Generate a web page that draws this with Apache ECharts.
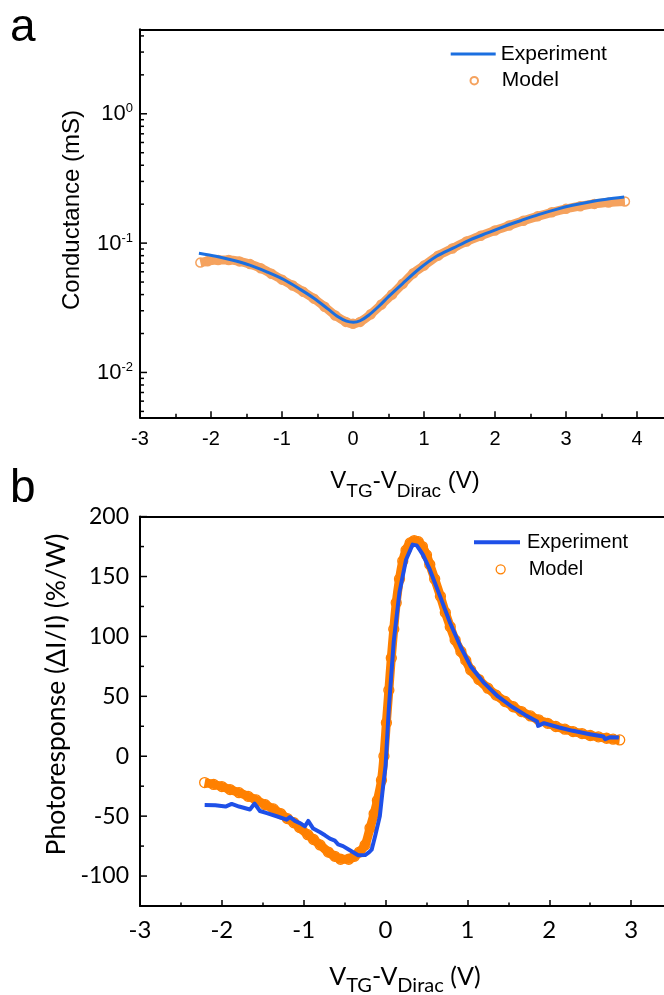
<!DOCTYPE html>
<html>
<head>
<meta charset="utf-8">
<title>Conductance and photoresponse</title>
<script src="https://cdn.jsdelivr.net/npm/echarts@6/dist/echarts.min.js"></script>
<style>
html,body{margin:0;padding:0;background:#ffffff;}
#chart{width:664px;height:995px;}
</style>
</head>
<body>
<div id="chart"></div>
<script>
// ---------- Panel a: conductance (mS) vs V_TG - V_Dirac (V) ----------
const gateA_experiment = [-2.17,-1.93,-1.69,-1.455,-1.215,-0.976,-0.737,-0.545,-0.354,-0.21,-0.091,0.005,0.1,0.22,0.364,0.507,0.699,0.938,1.177,1.416,1.656,1.895,2.134,2.373,2.612,2.852,3.091,3.33,3.569,3.82];
const conductance_experiment = [0.0834,0.0791,0.0737,0.0675,0.0599,0.0523,0.0437,0.0373,0.0310,0.0269,0.0249,0.02446,0.0251,0.0277,0.0325,0.0389,0.0487,0.0636,0.0791,0.0918,0.1064,0.1198,0.1349,0.150,0.166,0.1815,0.196,0.208,0.218,0.227];
const gateA_model = [-2.15,-2.05,-1.9,-1.75,-1.6,-1.45,-1.3,-1.15,-1.0,-0.85,-0.7,-0.55,-0.4,-0.25,-0.1,0,0.1,0.25,0.4,0.55,0.7,0.85,1.0,1.2,1.4,1.6,1.8,2.0,2.2,2.4,2.6,2.8,3.0,3.2,3.4,3.6,3.83];
const conductance_model = [0.0707,0.0725,0.0740,0.0740,0.0722,0.0688,0.0640,0.0580,0.0522,0.0470,0.0420,0.0372,0.0322,0.0276,0.0246,0.0238,0.0246,0.0282,0.0335,0.0400,0.0485,0.0585,0.0670,0.0800,0.0910,0.1030,0.1140,0.1250,0.1370,0.1490,0.1610,0.1730,0.1840,0.1930,0.2010,0.2060,0.2100];

// ---------- Panel b: photoresponse (%/W) vs V_TG - V_Dirac (V) ----------
const gateB_experiment = [-2.21,-2.08,-1.955,-1.88,-1.79,-1.657,-1.60,-1.535,-1.45,-1.331,-1.209,-1.168,-1.107,-1.04,-0.985,-0.945,-0.884,-0.80,-0.74,-0.68,-0.62,-0.58,-0.52,-0.436,-0.335,-0.25,-0.2,-0.17,-0.125,-0.07,-0.035,0.0,0.04,0.10,0.17,0.25,0.33,0.38,0.42,0.457,0.541,0.666,0.79,0.915,1.04,1.206,1.373,1.539,1.705,1.851,1.864,1.934,2.122,2.288,2.496,2.662,2.683,2.745,2.85];
const photoresponse_experiment = [-40.7,-40.9,-42,-39.8,-42,-44.5,-39.5,-45.7,-47.5,-50.1,-52.9,-50.7,-54,-56,-58.5,-54,-60.4,-63.5,-66,-68.8,-70.5,-73.5,-75,-78.5,-82.7,-82.5,-80,-78,-66,-50,-28,-8,40,96,137,164,176.6,176,172,168,155.7,133.4,111,91.6,75,61,49.9,41.5,34.5,29,25.3,27.6,24,21.2,18.4,16.4,14.2,15.9,15.6];
const gateB_model = [-2.21,-2.1,-2.0,-1.9,-1.79,-1.68,-1.58,-1.47,-1.37,-1.28,-1.2,-1.12,-1.05,-0.95,-0.88,-0.8,-0.7,-0.62,-0.55,-0.45,-0.38,-0.32,-0.25,-0.19,-0.14,-0.1,-0.05,-0.02,0.01,0.04,0.07,0.1,0.13,0.17,0.21,0.25,0.3,0.35,0.4,0.45,0.5,0.54,0.6,0.67,0.73,0.79,0.85,0.92,0.98,1.04,1.14,1.25,1.35,1.46,1.56,1.66,1.77,1.87,1.98,2.08,2.19,2.29,2.4,2.5,2.6,2.7,2.78,2.86];
const photoresponse_model = [-22,-23.5,-25.3,-27.8,-30.4,-33.5,-36.5,-40.5,-44,-48,-52,-55.5,-59.5,-65.5,-69.5,-74,-80,-83.5,-86,-86,-83.5,-80,-74,-60,-48,-37,-20,0,28,55,82,106,128,148,163,172,178,180,179,175,168,160,148,133.5,120,108,97,87.5,80,72,64,56.8,51,45.7,41.3,37.3,33.6,30.4,27.5,24.8,22.6,20.6,18.9,17.3,16.2,15,14.2,13.6];

// ---------- Axis ticks and labels ----------
const xTicksA = [-3,-2,-1,0,1,2,3,4];
const xTicksB = [-3,-2,-1,0,1,2,3];
const yMajorTicksA = [0.01, 0.1, 1];
const yMinorTicksA = [0.005,0.006,0.007,0.008,0.009,0.02,0.03,0.04,0.05,0.06,0.07,0.08,0.09,0.2,0.3,0.4,0.5,0.6,0.7,0.8,0.9,2,3,4];
const yMajorTicksB = [-100,-50,0,50,100,150,200];
const yMinorTicksB = [-75,-25,25,75,125,175];

// ---------- Styling ----------
const AX = '#000000';
const FA = "'Liberation Sans', Arial, sans-serif";
const FB = "Lato, 'Liberation Sans', sans-serif";
const blueA = '#1b6fe0', orangeA = '#f5a25e';
const blueB = '#1e50e8', orangeB = '#ff8000';

const pairs = (xs, ys) => xs.map((x, i) => [x, ys[i]]);

function tickSeries(xi, yi, xMin, values, len) {
  return {
    type: 'custom', coordinateSystem: 'cartesian2d', xAxisIndex: xi, yAxisIndex: yi,
    silent: true, clip: false, z: 10, animation: false,
    data: values.map(v => [xMin, v]),
    renderItem: (params, api) => {
      const p = api.coord([api.value(0), api.value(1)]);
      return { type: 'line', shape: { x1: p[0], y1: p[1], x2: p[0] + len, y2: p[1] },
               style: { stroke: AX, lineWidth: 1.5 } };
    }
  };
}

function xAxisBottom(grid, ticks, max, font, size, margin) {
  return {
    gridIndex: grid, type: 'value', position: 'bottom',
    min: ticks[0], max: max, interval: ticks[1] - ticks[0],
    axisLine: { show: true, onZero: false, lineStyle: { color: AX, width: 2 } },
    axisTick: { show: true, inside: true, length: 6, lineStyle: { color: AX, width: 1.5 } },
    minorTick: { show: true, splitNumber: 2, length: 3.5, lineStyle: { color: AX, width: 1.5 } },
    splitLine: { show: false }, minorSplitLine: { show: false },
    axisLabel: { show: true, margin: margin, color: AX, fontFamily: font, fontSize: size,
                 formatter: v => ticks.includes(v) ? String(v) : '' }
  };
}
function xAxisTop(grid, min, max) {
  return {
    gridIndex: grid, type: 'value', position: 'top', min: min, max: max,
    axisLine: { show: true, onZero: false, lineStyle: { color: AX, width: 2 } },
    axisTick: { show: false }, axisLabel: { show: false }, splitLine: { show: false }
  };
}

const chart = echarts.init(document.getElementById('chart'), null, { renderer: 'canvas', width: 664, height: 995 });

const option = {
  animation: false,
  backgroundColor: '#ffffff',
  grid: [
    { left: 140, top: 29.3, right: -44, bottom: 577.7, containLabel: false, outerBoundsMode: 'none' },
    { left: 140, top: 516.6, right: -49, bottom: 89, containLabel: false, outerBoundsMode: 'none' }
  ],
  xAxis: [
    xAxisBottom(0, xTicksA, 5, FA, 20, 12),
    xAxisTop(0, xTicksA[0], 5),
    xAxisBottom(1, xTicksB, 4, FB, 24, 12),
    xAxisTop(1, xTicksB[0], 4)
  ],
  yAxis: [
    {
      gridIndex: 0, type: 'log', logBase: 10, min: 0.0045, max: 4.5,
      axisLine: { show: true, onZero: false, lineStyle: { color: AX, width: 2 } },
      axisTick: { show: false }, splitLine: { show: false }, minorTick: { show: false },
      axisLabel: {
        show: true, margin: 7, color: AX,
        formatter: v => {
          const e = Math.round(Math.log10(v));
          if (!yMajorTicksA.some(t => Math.abs(t - v) < 1e-9)) return '';
          return '{b|10}{s|' + e + '}';
        },
        rich: {
          b: { fontSize: 22, fontFamily: FA, color: AX, verticalAlign: 'bottom' },
          s: { fontSize: 13, fontFamily: FA, color: AX, verticalAlign: 'bottom', padding: [0, 0, 10, 0] }
        }
      }
    },
    {
      gridIndex: 1, type: 'value', min: -125, max: 200, interval: 25,
      axisLine: { show: true, onZero: false, lineStyle: { color: AX, width: 2 } },
      axisTick: { show: false }, splitLine: { show: false },
      axisLabel: { show: true, margin: 11, color: AX, fontFamily: FB, fontSize: 23,
                   formatter: v => yMajorTicksB.includes(v) ? String(v) : '' }
    }
  ],
  legend: [
    { data: [{ name: 'Experiment', icon: 'rect' }], left: 450.7, top: 43.5, orient: 'vertical', padding: 0,
      itemWidth: 45, itemHeight: 3, symbolKeepAspect: false, selectedMode: false,
      itemStyle: { color: blueA, borderWidth: 0 },
      textStyle: { color: AX, fontFamily: FA, fontSize: 21 } },
    { data: [{ name: 'Model', icon: 'circle' }], left: 469.5, top: 70.2, orient: 'vertical', padding: 0,
      itemWidth: 45, itemHeight: 7.5, selectedMode: false,
      itemStyle: { color: '#ffffff', borderColor: orangeA, borderWidth: 2 },
      textStyle: { color: AX, fontFamily: FA, fontSize: 21 } },
    { data: [{ name: 'Experiment ', icon: 'rect' }], left: 474, top: 532.3, orient: 'vertical', padding: 0,
      itemWidth: 46, itemHeight: 4, symbolKeepAspect: false, selectedMode: false,
      itemStyle: { color: blueB, borderWidth: 0 },
      textStyle: { color: AX, fontFamily: FA, fontSize: 20, padding: [0, 0, 0, 2] } },
    { data: [{ name: 'Model ', icon: 'circle' }], left: 495.5, top: 559.3, orient: 'vertical', padding: 0,
      itemWidth: 46, itemHeight: 9, selectedMode: false,
      itemStyle: { color: '#ffffff', borderColor: orangeB, borderWidth: 1.3 },
      textStyle: { color: AX, fontFamily: FA, fontSize: 20 } }
  ],
  graphic: [
    { type: 'text', x: 10, y: 28, silent: true,
      style: { text: 'a', fontSize: 46, fontFamily: FA, fill: AX, align: 'left', verticalAlign: 'middle', textAlign: 'left', textVerticalAlign: 'middle' } },
    { type: 'text', x: 10, y: 489, silent: true,
      style: { text: 'b', fontSize: 46, fontFamily: FA, fill: AX, align: 'left', verticalAlign: 'middle', textAlign: 'left', textVerticalAlign: 'middle' } },
    { type: 'text', x: 72, y: 210, rotation: Math.PI / 2, silent: true,
      style: { text: 'Conductance (mS)', fontSize: 24, fontFamily: FA, fill: AX, align: 'center', verticalAlign: 'middle', textAlign: 'center', textVerticalAlign: 'middle' } },
    { type: 'text', x: 405, y: 485, silent: true,
      style: { text: '{m|V}{s|TG}{m|-V}{s|Dirac}{m| (V)}', align: 'center', verticalAlign: 'middle', textAlign: 'center', textVerticalAlign: 'middle',
        rich: {
          m: { fontSize: 24, fontFamily: FA, fill: AX, verticalAlign: 'bottom', padding: [0, 0, 8, 0] },
          s: { fontSize: 19, fontFamily: FA, fill: AX, verticalAlign: 'bottom' }
        } } },
    { type: 'text', x: 56, y: 694.5, rotation: Math.PI / 2, silent: true,
      style: { text: 'Photoresponse (\u0394I/I) (%/W)', fontSize: 26.5, fontFamily: FB, fill: AX, align: 'center', verticalAlign: 'middle', textAlign: 'center', textVerticalAlign: 'middle' } },
    { type: 'text', x: 405, y: 980, silent: true,
      style: { text: '{m|V}{s|TG}{m|-V}{s|Dirac}{m| (V)}', align: 'center', verticalAlign: 'middle', textAlign: 'center', textVerticalAlign: 'middle',
        rich: {
          m: { fontSize: 25, fontFamily: FB, fill: AX, verticalAlign: 'bottom', padding: [0, 0, 6, 0] },
          s: { fontSize: 20, fontFamily: FB, fill: AX, verticalAlign: 'bottom' }
        } } }
  ],
  series: [
    { name: 'Model', type: 'line', xAxisIndex: 0, yAxisIndex: 0, z: 2,
      data: pairs(gateA_model, conductance_model), smooth: 0.3,
      symbol: 'circle', symbolSize: 9, showSymbol: true,
      itemStyle: { color: 'rgba(255,255,255,0)', borderColor: orangeA, borderWidth: 1.5 },
      lineStyle: { color: orangeA, width: 9 }, emphasis: { disabled: true } },
    { name: 'Experiment', type: 'line', xAxisIndex: 0, yAxisIndex: 0, z: 3,
      data: pairs(gateA_experiment, conductance_experiment), smooth: 0.3,
      symbol: 'none', itemStyle: { color: blueA },
      lineStyle: { color: blueA, width: 3 }, emphasis: { disabled: true } },
    { name: 'Model ', type: 'line', xAxisIndex: 2, yAxisIndex: 1, z: 2,
      data: pairs(gateB_model, photoresponse_model), smooth: 0.3,
      symbol: 'circle', symbolSize: 10, showSymbol: true,
      itemStyle: { color: 'rgba(255,255,255,0)', borderColor: orangeB, borderWidth: 1.3 },
      lineStyle: { color: orangeB, width: 9 }, emphasis: { disabled: true } },
    { name: 'Experiment ', type: 'line', xAxisIndex: 2, yAxisIndex: 1, z: 3,
      data: pairs(gateB_experiment, photoresponse_experiment),
      symbol: 'none', itemStyle: { color: blueB },
      lineStyle: { color: blueB, width: 4, join: 'round' }, emphasis: { disabled: true } },
    tickSeries(0, 0, xTicksA[0], yMajorTicksA, 7),
    tickSeries(0, 0, xTicksA[0], yMinorTicksA, 4),
    tickSeries(2, 1, xTicksB[0], yMajorTicksB, 7),
    tickSeries(2, 1, xTicksB[0], yMinorTicksB, 4)
  ]
};
chart.setOption(option);
</script>
</body>
</html>
